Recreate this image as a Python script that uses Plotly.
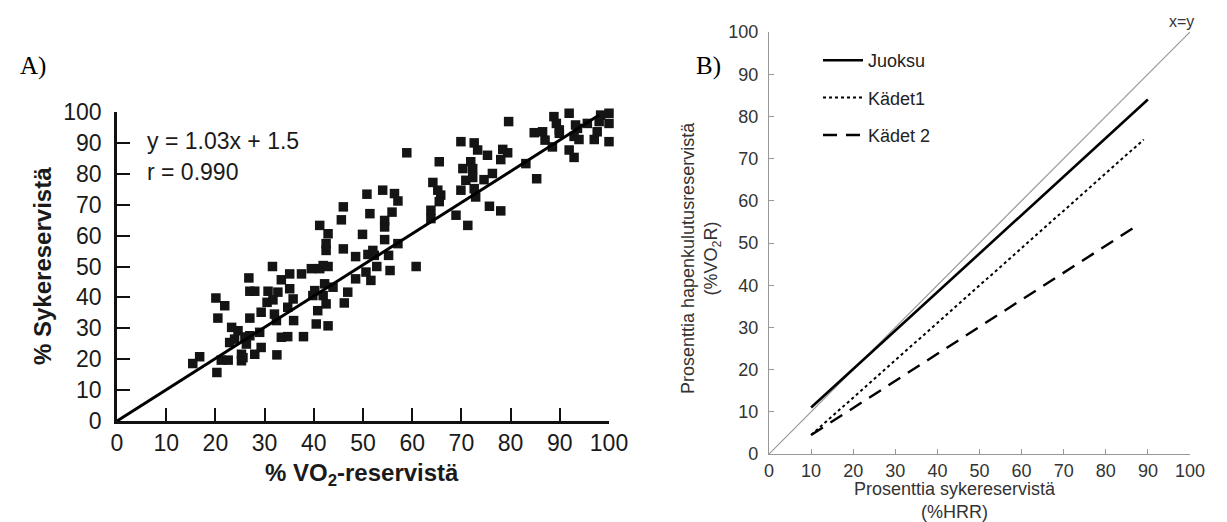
import plotly.graph_objects as go

# ---------------- Panel A data ----------------
vo2_reserve = [
    16.8, 15.4, 20.1, 21.9, 20.5, 20.3, 21.2, 22.6, 23.3, 24.6, 22.9, 23.9, 25.3, 25.3, 25.6,
    26.0, 27.0, 26.3, 28.0, 29.3, 29.0, 27.0, 26.8, 27.0, 28.0, 29.3, 30.7, 30.5, 31.7, 32.7,
    32.0, 32.4, 32.5, 33.4, 34.7, 31.6, 33.4, 35.1, 35.1, 34.7, 35.8, 35.9, 37.5, 37.9, 39.5,
    41.2, 40.2, 39.8, 40.8, 40.5, 42.5, 42.5, 41.9, 42.9, 42.2, 41.9, 42.5, 42.9, 42.9, 41.2,
    43.9,
    58.9, 65.5, 64.2, 65.2, 65.8, 65.5, 63.8, 63.8, 68.9, 50.8, 54.0, 56.4, 57.1, 46.0, 45.6,
    51.4, 55.9, 54.4, 54.4, 49.9, 54.4, 57.1, 46.0, 48.5, 51.0, 52.0, 52.3, 55.2, 52.8, 50.6,
    51.6, 55.5, 60.8, 48.5, 46.9, 46.2,
    79.6, 88.8, 89.3, 91.9, 89.9, 89.9, 93.2, 93.6, 95.6, 98.3, 100.0, 98.0, 100.0, 97.6, 97.0,
    100.0, 92.9, 93.9, 91.9, 92.9, 84.8, 86.5, 87.0, 88.5, 83.1, 85.3, 69.9, 72.6, 73.3, 75.3,
    78.4, 79.4, 78.0, 71.9, 72.3, 70.3, 76.3, 74.6, 70.9, 72.3, 72.6, 69.9, 72.9, 75.7, 78.0,
    71.3,
]
hr_reserve = [
    20.8, 18.6, 39.8, 37.3, 33.3, 15.7, 19.7, 19.7, 30.3, 29.2, 25.4, 26.5, 21.6, 19.5, 20.5,
    27.2, 27.6, 24.9, 21.6, 23.8, 28.7, 33.3, 46.3, 42.0, 42.0, 35.2, 42.0, 38.4, 39.2, 41.7,
    34.6, 32.5, 21.4, 27.1, 27.3, 50.0, 45.7, 47.6, 42.8, 36.8, 39.5, 32.5, 47.6, 27.3, 49.3,
    49.3, 42.2, 40.6, 35.7, 31.4, 57.4, 55.2, 50.3, 50.0, 44.4, 40.6, 37.9, 30.8, 60.6, 63.3,
    43.3,
    86.8, 83.9, 77.2, 74.7, 73.1, 71.0, 68.2, 65.5, 66.6, 73.4, 74.7, 73.6, 71.2, 69.3, 65.1,
    67.1, 67.6, 64.9, 62.8, 60.4, 58.7, 57.4, 55.7, 53.2, 53.9, 55.2, 53.6, 53.6, 50.0, 48.2,
    45.5, 48.7, 50.0, 46.0, 41.7, 38.2,
    96.9, 98.5, 96.3, 99.6, 94.2, 93.1, 95.8, 94.7, 96.3, 99.0, 99.6, 96.9, 96.3, 93.6, 91.1,
    90.4, 92.1, 91.1, 87.7, 85.3, 93.3, 93.6, 90.9, 88.7, 83.3, 78.4, 90.4, 90.0, 87.7, 86.0,
    87.9, 86.8, 84.6, 83.9, 81.7, 81.7, 80.1, 78.1, 77.9, 78.8, 75.2, 74.7, 72.5, 69.5, 68.0,
    63.3,
]
fit_x = [0, 98]
fit_y = [0, 99]
ticks_a = [0, 10, 20, 30, 40, 50, 60, 70, 80, 90, 100]

# ---------------- Panel B data ----------------
identity_x = [0, 100]
identity_y = [0, 100]
juoksu_x = [10, 90]
juoksu_y = [11, 84]
kadet1_x = [10, 89]
kadet1_y = [4.5, 74.5]
kadet2_x = [10, 88]
kadet2_y = [4.5, 54.5]
ticks_b = [0, 10, 20, 30, 40, 50, 60, 70, 80, 90, 100]

W, H = 1227, 522
def px(x):
    return x / W
def py(y):
    return 1 - y / H

fig = go.Figure()

# Panel A
fig.add_trace(go.Scatter(x=vo2_reserve, y=hr_reserve, mode="markers", xaxis="x", yaxis="y",
                         marker=dict(symbol="square", size=9.5, color="#141414"),
                         cliponaxis=False, showlegend=False))
fig.add_trace(go.Scatter(x=fit_x, y=fit_y, mode="lines", xaxis="x", yaxis="y",
                         line=dict(color="black", width=3), cliponaxis=False, showlegend=False))

# Panel B
fig.add_trace(go.Scatter(x=identity_x, y=identity_y, mode="lines", xaxis="x2", yaxis="y2",
                         line=dict(color="#9a9a9a", width=1.2), showlegend=False, cliponaxis=False))
fig.add_trace(go.Scatter(x=juoksu_x, y=juoksu_y, mode="lines", xaxis="x2", yaxis="y2",
                         name="Juoksu", legendgroup="a",
                         line=dict(color="black", width=2.6)))
fig.add_trace(go.Scatter(x=kadet1_x, y=kadet1_y, mode="lines", xaxis="x2", yaxis="y2",
                         name="Kädet1", legendgroup="b",
                         line=dict(color="black", width=2, dash="dot")))
fig.add_trace(go.Scatter(x=kadet2_x, y=kadet2_y, mode="lines", xaxis="x2", yaxis="y2",
                         name="Kädet 2", legendgroup="c",
                         line=dict(color="black", width=2.4, dash="14px,9px")))

font_a = dict(family="Liberation Sans, Arial", size=23, color="#1a1a1a")
font_b = dict(family="Liberation Sans, Arial", size=18, color="#333333")

def note(text, x, y, font, xanchor="center", angle=0):
    return dict(text=text, x=px(x), y=py(y), xref="paper", yref="paper", showarrow=False,
                xanchor=xanchor, yanchor="middle", textangle=angle, font=font)

fig.update_layout(
    width=W, height=H,
    margin=dict(l=0, r=0, t=0, b=0, pad=0, autoexpand=False),
    paper_bgcolor="white", plot_bgcolor="white",
    xaxis=dict(domain=[px(117), px(609)], range=[0, 100], tickvals=ticks_a,
               showgrid=False, zeroline=False, showline=True, linecolor="#111", linewidth=2.5,
               ticks="inside", ticklen=13, tickwidth=2, tickcolor="#111",
               tickfont=font_a, ticklabelstandoff=0, anchor="y", automargin=False),
    yaxis=dict(domain=[py(421), py(112)], range=[0, 100], tickvals=ticks_a,
               showgrid=False, zeroline=False, showline=True, linecolor="#111", linewidth=2.5,
               ticks="inside", ticklen=13, tickwidth=2, tickcolor="#111",
               tickfont=font_a, ticklabelstandoff=8, anchor="x", automargin=False),
    xaxis2=dict(domain=[px(769), px(1190)], range=[0, 100], tickvals=ticks_b,
                showgrid=False, zeroline=False, showline=True, linecolor="#999", linewidth=1.2,
                ticks="inside", ticklen=5, tickwidth=1.2, tickcolor="#999",
                tickfont=font_b, ticklabelstandoff=0, anchor="y2", automargin=False),
    yaxis2=dict(domain=[py(454), py(32)], range=[0, 100], tickvals=ticks_b,
                showgrid=False, zeroline=False, showline=True, linecolor="#999", linewidth=1.2,
                ticks="inside", ticklen=5, tickwidth=1.2, tickcolor="#999",
                tickfont=font_b, ticklabelstandoff=6, anchor="x2", automargin=False),
    legend=dict(x=px(818), y=py(42), xanchor="left", yanchor="top",
                font=dict(family="Liberation Sans, Arial", size=18, color="#222"),
                bgcolor="rgba(0,0,0,0)", tracegroupgap=11, itemwidth=40),
    annotations=[
        note("A)", 33, 66, dict(family="Liberation Serif, Times New Roman", size=25, color="black")),
        note("B)", 708, 66, dict(family="Liberation Serif, Times New Roman", size=25, color="black")),
        note("y = 1.03x + 1.5", 145, 141, font_a, xanchor="left"),
        note("r = 0.990", 145, 172, font_a, xanchor="left"),
        note("<b>% Sykereservistä</b>", 42, 266,
             dict(family="Liberation Sans, Arial", size=24, color="#1a1a1a"), angle=-90),
        note("<b>% VO<sub>2</sub>-reservistä</b>", 362, 474,
             dict(family="Liberation Sans, Arial", size=24, color="#1a1a1a")),
        note("x=y", 1181, 21, dict(family="Liberation Sans, Arial", size=16, color="#333")),
        note("Prosenttia sykereservistä<br>(%HRR)", 955, 500, font_b),
        note("Prosenttia hapenkulutusreservistä<br>(%VO<sub>2</sub>R)", 701, 258, font_b,
             angle=-90),
    ],
)

fig.write_html("out.html")
